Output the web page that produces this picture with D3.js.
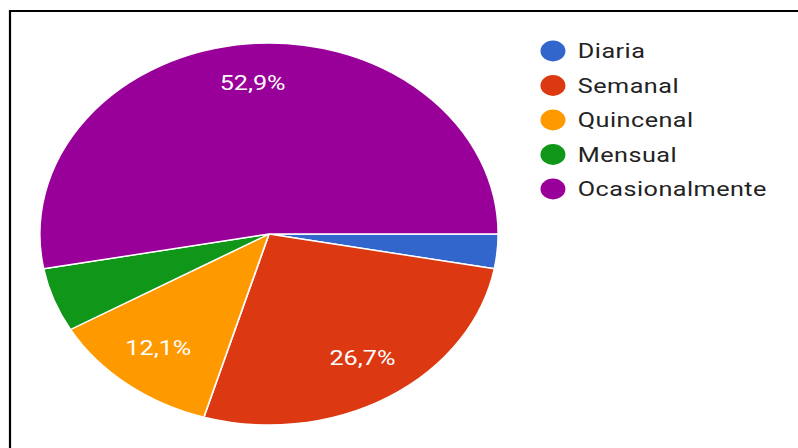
<!DOCTYPE html>
<html><head><meta charset="utf-8">
<script src="https://cdn.jsdelivr.net/npm/d3@7"></script>
<style>html,body{margin:0;padding:0;background:#fff;}svg{display:block;}</style>
</head><body>
<svg id="chart" width="798" height="448"></svg>
<script>
const categories = ["Diaria", "Semanal", "Quincenal", "Mensual", "Ocasionalmente"];
const counts = [7, 64, 29, 13, 127];
const colors = ["#3366cc", "#dc3912", "#ff9900", "#109618", "#990099"];

const svg = d3.select("#chart");
const W = 798, H = 448;
const sx = 1.2;
const R = 191;
const cx = 269, cy = 234;

// frame (top and left lines)
svg.append("line").attr("x1", 10).attr("y1", 11).attr("x2", W).attr("y2", 11)
  .attr("stroke", "#000").attr("stroke-width", 2.2);
svg.append("line").attr("x1", 10).attr("y1", 10).attr("x2", 10).attr("y2", H)
  .attr("stroke", "#000").attr("stroke-width", 2.2);

const total = d3.sum(counts);
const data = categories.map((c, i) => ({cat: c, v: counts[i], color: colors[i]}));
const pie = d3.pie().value(d => d.v).sort(null)
  .startAngle(Math.PI / 2).endAngle(Math.PI / 2 + 2 * Math.PI);
const arcs = pie(data);
const arc = d3.arc().innerRadius(0).outerRadius(R);
const labelArc = d3.arc().innerRadius(R * 0.78).outerRadius(R * 0.78);

const g = svg.append("g").attr("transform", `translate(${cx},${cy}) scale(${sx},1)`);
g.selectAll("path").data(arcs).join("path")
  .attr("d", arc)
  .attr("fill", d => d.data.color)
  .attr("stroke", "#fff")
  .attr("stroke-width", 1.4)
  .attr("stroke-linejoin", "round");

const fmt = v => (v * 100).toFixed(1).replace(".", ",") + "%";
g.selectAll("text.lbl").data(arcs.filter(d => d.data.v / total > 0.08)).join("text")
  .attr("class", "lbl")
  .attr("transform", d => { const c = labelArc.centroid(d); return `translate(${c[0]},${c[1] - 3})`; })
  .attr("text-anchor", "middle")
  .attr("dominant-baseline", "central")
  .attr("font-family", "Roboto, sans-serif")
  .attr("font-size", 21)
  .attr("fill", "#fff")
  .text(d => fmt(d.data.v / total));

// legend
const lg = svg.append("g").attr("transform", `scale(${sx},1)`);
const rowY = d3.scalePoint().domain(categories).range([51, 189]);
const items = lg.selectAll("g.item").data(data).join("g").attr("class", "item")
  .attr("transform", d => `translate(0,${rowY(d.cat)})`);
items.append("circle").attr("cx", 460.8).attr("cy", 0).attr("r", 10.4).attr("fill", d => d.color);
items.append("text").attr("x", 481.5).attr("y", 0)
  .attr("dominant-baseline", "central")
  .attr("font-family", "Roboto, sans-serif")
  .attr("font-size", 21)
  .attr("letter-spacing", 0.4)
  .attr("fill", "#222")
  .text(d => d.cat);
</script>
</body></html>
